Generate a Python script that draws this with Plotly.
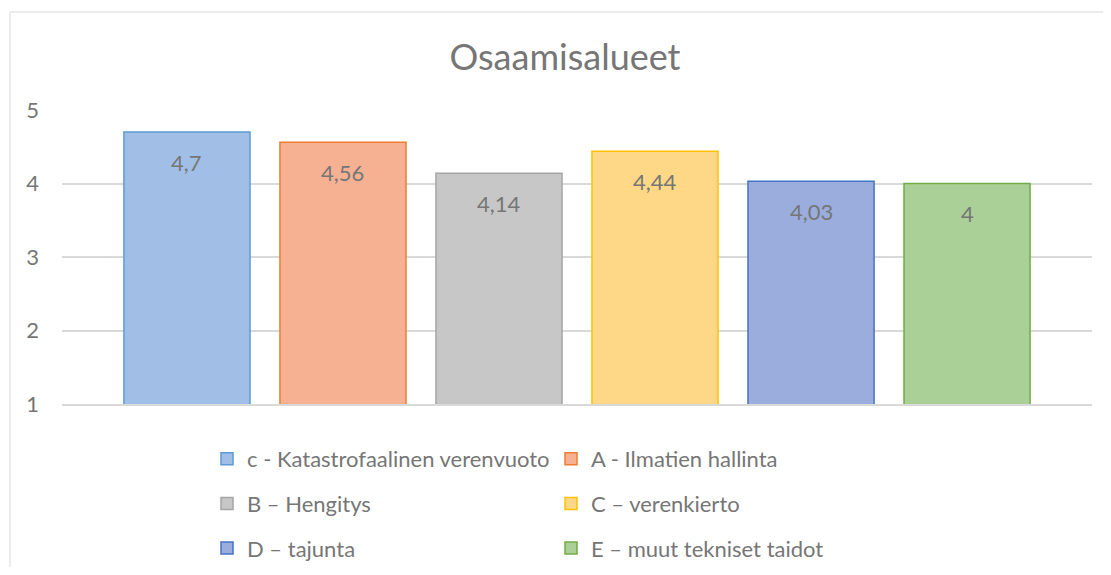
import plotly.graph_objects as go

# ---- data ----
categories = [
    "c - Katastrofaalinen verenvuoto",
    "A - Ilmatien hallinta",
    "B \u2013 Hengitys",
    "C \u2013 verenkierto",
    "D \u2013 tajunta",
    "E \u2013 muut tekniset taidot",
]
values = [4.7, 4.56, 4.14, 4.44, 4.03, 4.0]
labels = ["4,7", "4,56", "4,14", "4,44", "4,03", "4"]
y_ticks = [1, 2, 3, 4, 5]
title_text = "Osaamisalueet"

fill_colors = ["#a1bfe6", "#f6b193", "#c7c7c7", "#ffd887", "#9aaddd", "#aacf97"]
line_colors = ["#5b9bd5", "#ed7d31", "#a5a5a5", "#ffc000", "#4472c4", "#70ad47"]
legend_of = ["legend", "legend2", "legend", "legend2", "legend", "legend2"]

FONT = "Lato"
TXT = "#767676"

# geometry (figure pixels; page adds an 8px body margin)
W, H = 1095, 559
L, R, T, B = 54, 11, 102, 163
PW, PH = W - L - R, H - T - B

def px_x(p):
    return (p - L) / PW

def px_y(p):
    return (H - B - p) / PH

fig = go.Figure()
for i, (cat, val) in enumerate(zip(categories, values)):
    fig.add_trace(go.Bar(
        x=[cat], y=[val], name=cat, width=0.808,
        marker=dict(color=fill_colors[i], line=dict(color=line_colors[i], width=1.5)),
        legend=legend_of[i], legendgroup=cat, hoverinfo="skip",
    ))
    fig.add_annotation(x=cat, y=val, text=labels[i], showarrow=False,
                       yanchor="middle", yshift=-30,
                       font=dict(family=FONT, size=22, color=TXT))

legend_common = dict(
    orientation="v", traceorder="grouped", tracegroupgap=13,
    font=dict(family=FONT, size=22, color=TXT),
    bgcolor="rgba(0,0,0,0)", yanchor="top", xanchor="left",
)

border = dict(color="#d9d9d9", width=1)
fig.update_layout(
    width=W, height=H,
    margin=dict(l=L, r=R, t=T, b=B, autoexpand=False),
    paper_bgcolor="white", plot_bgcolor="white",
    barmode="overlay",
    showlegend=True,
    title=dict(text=title_text, x=px_x(557), xref="paper", xanchor="center",
               y=1 - 49 / H, yref="container", yanchor="middle",
               font=dict(family=FONT, size=36, color=TXT)),
    legend=dict(x=px_x(199), y=px_y(430), **legend_common),
    legend2=dict(x=px_x(543), y=px_y(430), **legend_common),
    xaxis=dict(categoryorder="array", categoryarray=categories,
               range=[-0.801, 5.801], showticklabels=False, ticks="",
               showgrid=False, showline=True, linecolor="#d9d9d9", linewidth=1.5,
               zeroline=False, fixedrange=True),
    yaxis=dict(range=[1, 5], tickvals=y_ticks, ticks="", showline=False,
               showgrid=True, gridcolor="#d9d9d9", gridwidth=1.5, zeroline=False,
               tickfont=dict(family=FONT, size=22, color=TXT),
               ticklabelstandoff=22, fixedrange=True),
    shapes=[
        dict(type="line", xref="paper", yref="paper",
             x0=px_x(2), y0=px_y(4), x1=px_x(2), y1=-3, line=border, layer="below"),
        dict(type="line", xref="paper", yref="paper",
             x0=px_x(2), y0=px_y(4), x1=3, y1=px_y(4), line=border, layer="below"),
    ],
)

fig.write_html("out.html")
